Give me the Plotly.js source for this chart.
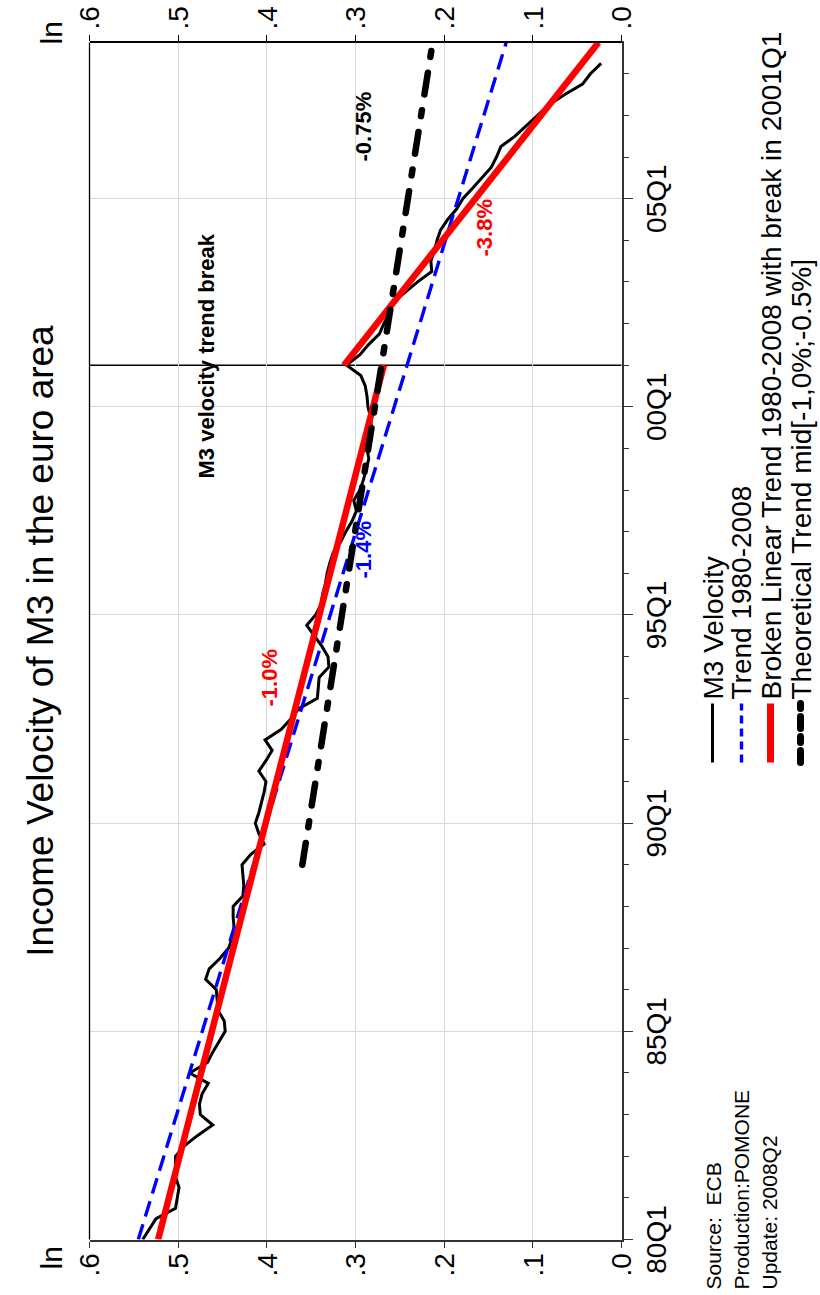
<!DOCTYPE html>
<html><head><meta charset="utf-8">
<script src="https://cdn.plot.ly/plotly-3.0.1.min.js"></script>
<style>
html,body{margin:0;padding:0;width:820px;height:1295px;overflow:hidden;background:#fff;}
#chart{position:absolute;left:-237.5px;top:237.5px;width:1295px;height:820px;transform:rotate(-90deg);transform-origin:50% 50%;}
</style></head><body><div id="chart"></div>
<script>
// ---- data ----
const firstQuarter = [1980, 1];
const velocity = [
  0.540, 0.532, 0.525, 0.503,
  0.501, 0.499, 0.503, 0.503,
  0.503, 0.493, 0.478, 0.461,
  0.475, 0.476, 0.473, 0.466,
  0.487, 0.467, 0.461, 0.454,
  0.447, 0.448, 0.455, 0.456,
  0.457, 0.469, 0.465, 0.453,
  0.443, 0.439, 0.437, 0.438,
  0.438, 0.427, 0.426, 0.427,
  0.428, 0.418, 0.403, 0.409,
  0.413, 0.409, 0.406, 0.403,
  0.401, 0.409, 0.401, 0.394,
  0.402, 0.384, 0.373, 0.364,
  0.343, 0.342, 0.341, 0.330,
  0.331, 0.338, 0.347, 0.355,
  0.345, 0.339, 0.337, 0.334,
  0.332, 0.329, 0.325, 0.317,
  0.311, 0.304, 0.299, 0.302,
  0.295, 0.291, 0.288, 0.285,
  0.287, 0.284, 0.282, 0.283,
  0.286, 0.287, 0.289, 0.294,
  0.310, 0.295, 0.285, 0.273,
  0.268, 0.262, 0.258, 0.244,
  0.230, 0.214, 0.215, 0.211,
  0.208, 0.204, 0.196, 0.186,
  0.179, 0.168, 0.157, 0.147,
  0.141, 0.136, 0.120, 0.107,
  0.095, 0.082, 0.064, 0.044,
  0.035, 0.023
];
const trendX = [1980, 2008.75];
const trendY = [0.545, 0.130];
const brokenX = [1980, 2001, null, 2001, 2008.75];
const brokenY = [0.5226, 0.268, null, 0.313, 0.026];
const theoX = [1989, 2008.75];
const theoY = [0.360, 0.213];
const breakDate = 2001;
const xRange = [1980, 2008.75];
const yRange = [0, 0.6];
const xTickVals = [1980, 1985, 1990, 1995, 2000, 2005];
const xTickText = ['80Q1', '85Q1', '90Q1', '95Q1', '00Q1', '05Q1'];
const yTickVals = [0, 0.1, 0.2, 0.3, 0.4, 0.5, 0.6];
const yTickText = ['.0', '.1', '.2', '.3', '.4', '.5', '.6'];
const seriesNames = ['M3 Velocity', 'Trend 1980-2008',
  'Broken Linear Trend 1980-2008 with break in 2001Q1',
  'Theoretical Trend mid[-1,0%;-0.5%]'];
const rateLabels = [
  {text: '-1.0%', x: 1993.49, y: 0.397, color: '#ff0000'},
  {text: '-1.4%', x: 1996.55, y: 0.291, color: '#0000ff'},
  {text: '-3.8%', x: 2004.29, y: 0.155, color: '#ff0000'},
  {text: '-0.75%', x: 2006.73, y: 0.292, color: '#000000'},
  {text: 'M3 velocity trend break', x: 2001.23, y: 0.469, color: '#000000'}
];
const sourceLines = ['Source:  ECB', 'Production:POMONE', 'Update: 2008Q2'];

// ---- build ----
const qX = velocity.map((v, i) => firstQuarter[0] + (firstQuarter[1] - 1 + i) / 4);
const FONT = 'Liberation Sans, Arial, sans-serif';
const W = 1295, H = 820, M = {l: 56, r: 42, t: 89, b: 199};
const pw = W - M.l - M.r, ph = H - M.t - M.b;
const px = u => (u - M.l) / pw;          // pixel (unrotated) -> paper x
const py = v => (H - M.b - v) / ph;      // pixel (unrotated) -> paper y

const traces = [
  {x: qX, y: velocity, mode: 'lines', name: seriesNames[0], line: {color: '#000', width: 3}, showlegend: false},
  {x: trendX, y: trendY, mode: 'lines', name: seriesNames[1], line: {color: '#0000ff', width: 3.4, dash: '16px,8px'}, showlegend: false},
  {x: brokenX, y: brokenY, mode: 'lines', name: seriesNames[2], line: {color: '#ff0000', width: 6.5}, connectgaps: false, showlegend: false},
  {x: theoX, y: theoY, mode: 'lines', name: seriesNames[3], line: {color: '#000', width: 6.5, dash: '22px,16px,6px,16px'}, showlegend: false},
  {x: [xRange[0]], y: [0], yaxis: 'y2', mode: 'markers', marker: {size: 1, opacity: 0}, hoverinfo: 'skip', showlegend: false}
];

const minorYears = [];
for (let y = 1981; y <= 2008; y++) if (y % 5 !== 0) minorYears.push(y);

const annotations = rateLabels.map(a => ({
  x: a.x, y: a.y, xref: 'x', yref: 'y', text: '<b>' + a.text + '</b>', showarrow: false,
  font: {family: FONT, size: 22, color: a.color}, xanchor: 'center', yanchor: 'middle'
}));
annotations.push({x: px(37), y: py(50), xref: 'paper', yref: 'paper', text: 'ln', showarrow: false,
  font: {family: FONT, size: 30, color: '#000'}, xanchor: 'center', yanchor: 'middle'});
annotations.push({x: px(1262), y: py(50), xref: 'paper', yref: 'paper', text: 'ln', showarrow: false,
  font: {family: FONT, size: 30, color: '#000'}, xanchor: 'center', yanchor: 'middle'});
sourceLines.forEach((t, i) => annotations.push({x: px(4), y: py(712 + 28 * i), xref: 'paper', yref: 'paper',
  text: t, showarrow: false, font: {family: FONT, size: 21, color: '#000'}, xanchor: 'left', yanchor: 'middle'}));

const shapes = [
  {type: 'line', xref: 'x', yref: 'paper', x0: breakDate, x1: breakDate, y0: 0, y1: 1, line: {color: '#000', width: 1.5}, layer: 'below'},
  {type: 'line', xref: 'paper', yref: 'paper', x0: 0, x1: 1, y0: 1, y1: 1, line: {color: '#000', width: 1.3}}
];
// manual legend
const legRows = [712, 741, 770, 800];
const legStyles = [
  {color: '#000', width: 3, dash: 'solid'},
  {color: '#0000ff', width: 3.4, dash: '8px,5px'},
  {color: '#ff0000', width: 7, dash: 'solid'},
  {color: '#000', width: 7, dash: '12px,8px,6px,8px'}
];
legRows.forEach((v, i) => {
  shapes.push({type: 'line', xref: 'paper', yref: 'paper', x0: px(533), x1: px(592), y0: py(v), y1: py(v), line: legStyles[i]});
  annotations.push({x: px(594), y: py(v), xref: 'paper', yref: 'paper', text: seriesNames[i], showarrow: false,
    font: {family: FONT, size: 28, color: '#000'}, xanchor: 'left', yanchor: 'middle'});
});

const layout = {
  width: W, height: H, margin: M, paper_bgcolor: '#fff', plot_bgcolor: '#fff',
  font: {family: FONT, color: '#000'},
  title: {text: 'Income Velocity of M3 in the euro area', font: {family: FONT, size: 37, color: '#000'},
    x: 0.5, xref: 'paper', xanchor: 'center', y: 1 - 40 / H, yref: 'container', yanchor: 'middle'},
  xaxis: {range: xRange, tickmode: 'array', tickvals: xTickVals, ticktext: xTickText,
    ticks: 'outside', ticklen: 9, tickwidth: 1, tickcolor: '#333',
    showline: true, linecolor: '#333', linewidth: 2, mirror: false,
    showgrid: true, gridcolor: '#d9d9d9', gridwidth: 1, zeroline: false,
    tickfont: {family: FONT, size: 28, color: '#000'},
    minor: {tickmode: 'array', tickvals: minorYears, ticks: 'outside', ticklen: 5, tickcolor: '#333', showgrid: false}},
  yaxis: {range: yRange, tickmode: 'array', tickvals: yTickVals, ticktext: yTickText,
    ticks: 'outside', ticklen: 6, tickcolor: '#333', showline: true, linecolor: '#333', linewidth: 2,
    showgrid: true, gridcolor: '#d9d9d9', gridwidth: 1, zeroline: false,
    tickfont: {family: FONT, size: 28, color: '#000'}},
  yaxis2: {range: yRange, overlaying: 'y', side: 'right', tickmode: 'array', tickvals: yTickVals, ticktext: yTickText,
    ticks: 'outside', ticklen: 6, tickcolor: '#000', showline: true, linecolor: '#000', linewidth: 1.3,
    showgrid: false, zeroline: false, tickfont: {family: FONT, size: 28, color: '#000'}},
  showlegend: false,
  annotations: annotations,
  shapes: shapes
};
Plotly.newPlot('chart', traces, layout, {displayModeBar: false, staticPlot: true}).then(gd => {
  // rounded caps for the thick dash-dot theoretical trend, as in the reference
  const lines = gd.querySelectorAll('.scatterlayer .trace');
  if (lines[3]) lines[3].querySelectorAll('path.js-line').forEach(p => p.style.strokeLinecap = 'round');
  gd.querySelectorAll('.shapelayer path').forEach(p => {
    if (p.style.stroke && p.style.strokeDasharray && p.style.strokeDasharray.indexOf('12px') === 0) p.style.strokeLinecap = 'round';
  });
});
</script>
</body></html>
